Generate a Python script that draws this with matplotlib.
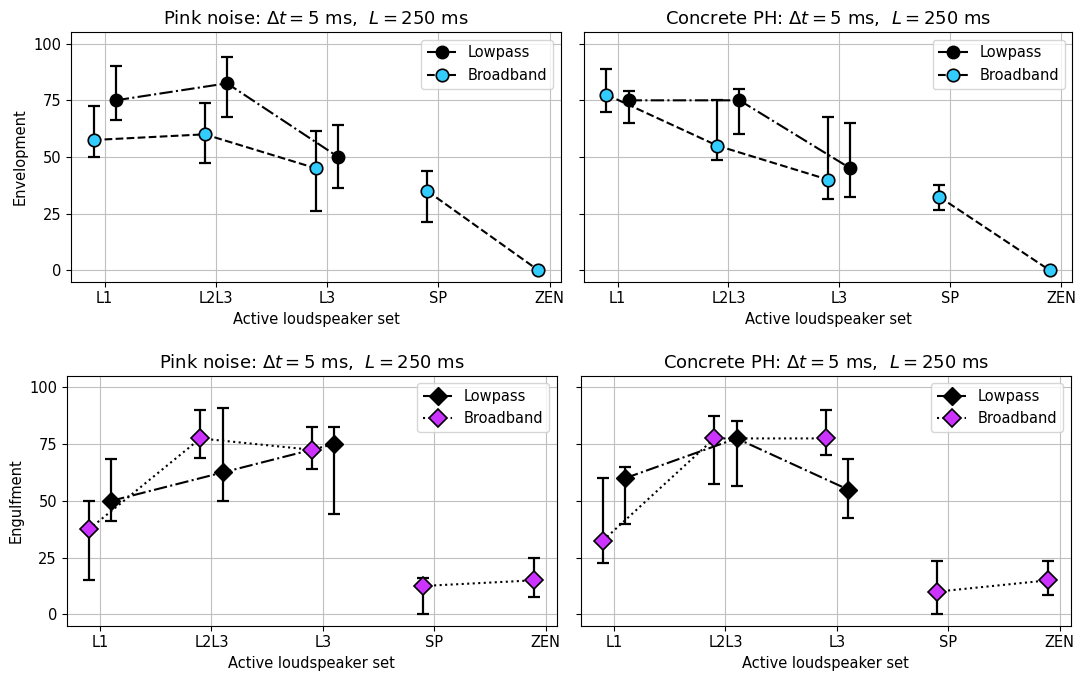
import numpy as np
import matplotlib
matplotlib.use('Agg')
import matplotlib.pyplot as plt

sets = ['L1', 'L2L3', 'L3', 'SP', 'ZEN']

# envelopment, pink noise
env_pink_lp = [75, 82.5, 50]
env_pink_lp_lo = [66.5, 67.5, 36.5]
env_pink_lp_hi = [90, 94, 64]
env_pink_bb = [57.5, 60, 45, 35, 0]
env_pink_bb_lo = [50, 47.5, 26, 21.5, 0]
env_pink_bb_hi = [72.5, 74, 61.5, 44, 0]

# envelopment, concrete PH
env_ph_lp = [75, 75, 45]
env_ph_lp_lo = [65, 60, 32.5]
env_ph_lp_hi = [79, 80, 65]
env_ph_bb = [77.5, 55, 40, 32.5, 0]
env_ph_bb_lo = [70, 48.5, 31.5, 26.5, 0]
env_ph_bb_hi = [89, 75, 67.5, 37.5, 0]

# engulfment, pink noise
eng_pink_lp = [50, 62.5, 75]
eng_pink_lp_lo = [41, 50, 44]
eng_pink_lp_hi = [68.5, 91, 82.5]
eng_pink_bb = [37.5, 77.5, 72.5, 12.5, 15]
eng_pink_bb_lo = [15, 69, 64, 0, 7.5]
eng_pink_bb_hi = [50, 90, 82.5, 16, 25]

# engulfment, concrete PH
eng_ph_lp = [60, 77.5, 55]
eng_ph_lp_lo = [40, 56.5, 42.5]
eng_ph_lp_hi = [65, 85, 68.5]
eng_ph_bb = [32.5, 77.5, 77.5, 10, 15]
eng_ph_bb_lo = [22.5, 57.5, 70, 0, 8.5]
eng_ph_bb_hi = [60, 87.5, 90, 23.5, 23.5]

titles = [r'Pink noise: $\Delta t = 5$ ms,  $L = 250$ ms',
          r'Concrete PH: $\Delta t = 5$ ms,  $L = 250$ ms']


def yerr(vals, lo, hi):
    vals = np.array(vals)
    return np.array([vals - np.array(lo), np.array(hi) - vals])


def draw(ax, lp, lp_lo, lp_hi, bb, bb_lo, bb_hi, marker, bbcolor, bbls, ms):
    x = np.arange(len(sets))
    xl = x[:len(lp)] + 0.1
    xb = x[:len(bb)] - 0.1
    bb = np.array(bb)
    # error bars first, lines + markers on top
    ax.errorbar(xl, lp, yerr=yerr(lp, lp_lo, lp_hi), ls='none', ecolor='k',
                elinewidth=1.6, capsize=4, capthick=1.6, zorder=2)
    ax.errorbar(xb, bb, yerr=yerr(bb, bb_lo, bb_hi), ls='none', ecolor='k',
                elinewidth=1.6, capsize=4, capthick=1.6, zorder=2)
    ax.plot(xl, lp, color='k', ls='-.', marker=marker, ms=ms, mfc='k', mec='k',
            lw=1.5, label='Lowpass', zorder=3)
    # broadband: loudspeaker sets and SP/ZEN are separate groups
    ax.plot(xb[:3], bb[:3], color='k', ls=bbls, marker=marker, ms=ms, mfc=bbcolor,
            mec='k', mew=1.2, lw=1.5, label='Broadband', zorder=3)
    ax.plot(xb[3:], bb[3:], color='k', ls=bbls, marker=marker, ms=ms, mfc=bbcolor,
            mec='k', mew=1.2, lw=1.5, zorder=3)
    ax.set_xticks(x)
    ax.set_xticklabels(sets)
    ax.set_yticks([0, 25, 50, 75, 100])
    ax.set_ylim(-5, 105)
    ax.set_xlim(-0.3, 4.1)
    ax.grid(True, color='#c0c0c0')
    ax.set_axisbelow(True)
    ax.set_xlabel('Active loudspeaker set', fontsize=10.5)
    ax.legend(loc='upper right', fontsize=10.5)
    ax.tick_params(labelsize=10.5)


W, H = 1079, 673
fig = plt.figure(figsize=(W / 100, H / 100), dpi=100)


def box(x0, y0, x1, y1):
    return [x0 / W, 1 - y1 / H, (x1 - x0) / W, (y1 - y0) / H]


ax_tl = fig.add_axes(box(71.3, 32.3, 560.7, 281.7))
ax_tr = fig.add_axes(box(584.3, 32.3, 1072, 281.7))
ax_bl = fig.add_axes(box(66.7, 376, 556.7, 625.7))
ax_br = fig.add_axes(box(580.7, 376, 1070.7, 625.7))

draw(ax_tl, env_pink_lp, env_pink_lp_lo, env_pink_lp_hi,
     env_pink_bb, env_pink_bb_lo, env_pink_bb_hi, 'o', '#33ccff', '--', 9)
draw(ax_tr, env_ph_lp, env_ph_lp_lo, env_ph_lp_hi,
     env_ph_bb, env_ph_bb_lo, env_ph_bb_hi, 'o', '#33ccff', '--', 9)
draw(ax_bl, eng_pink_lp, eng_pink_lp_lo, eng_pink_lp_hi,
     eng_pink_bb, eng_pink_bb_lo, eng_pink_bb_hi, 'D', '#cc33ff', ':', 9)
draw(ax_br, eng_ph_lp, eng_ph_lp_lo, eng_ph_lp_hi,
     eng_ph_bb, eng_ph_bb_lo, eng_ph_bb_hi, 'D', '#cc33ff', ':', 9)

for ax, t in [(ax_tl, titles[0]), (ax_tr, titles[1]), (ax_bl, titles[0]), (ax_br, titles[1])]:
    ax.set_title(t, fontsize=13)
ax_tr.tick_params(labelleft=False)
ax_br.tick_params(labelleft=False)
ax_tl.set_ylabel('Envelopment', fontsize=10.5)
ax_bl.set_ylabel('Engulfment', fontsize=10.5)

fig.savefig('out.png', dpi=100)
